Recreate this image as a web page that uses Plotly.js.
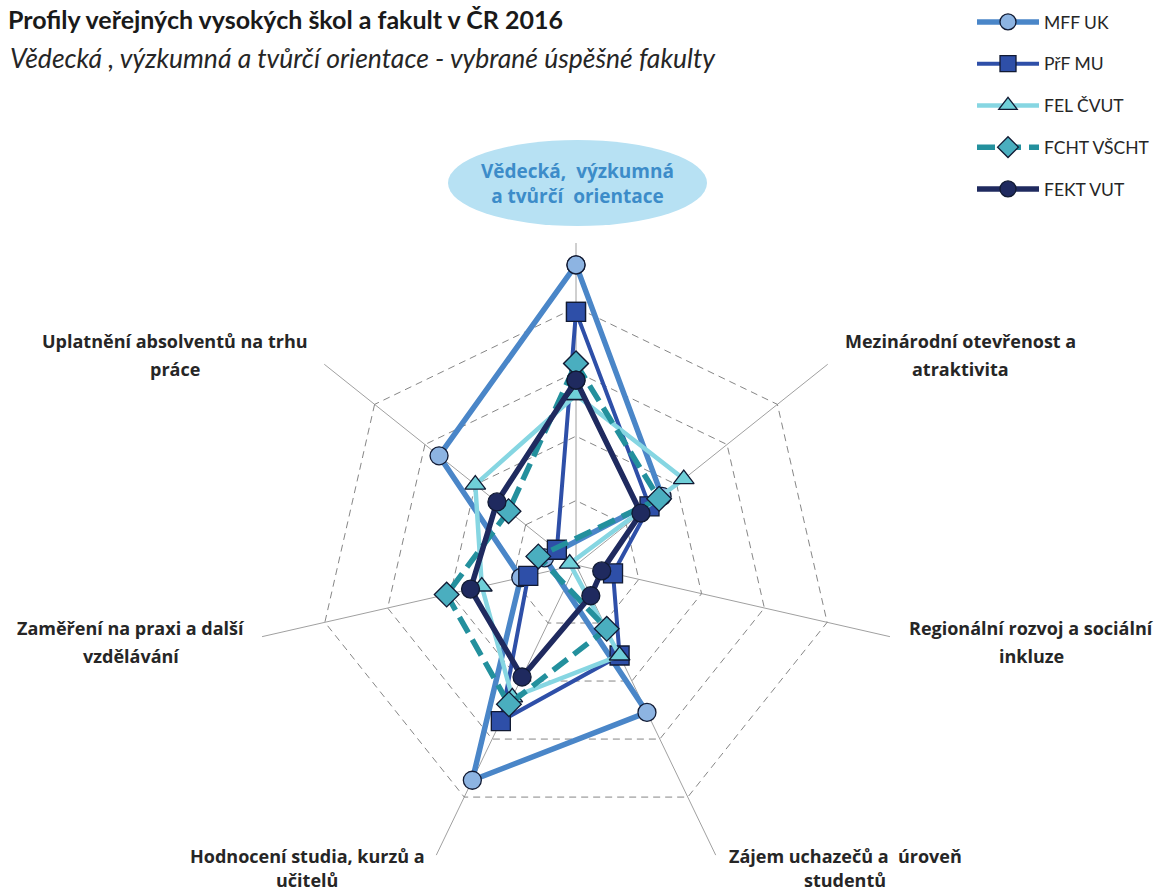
<!DOCTYPE html>
<html>
<head>
<meta charset="utf-8">
<script src="https://cdn.plot.ly/plotly-3.0.1.min.js"></script>
<style>
  html, body { margin: 0; padding: 0; background: #fff; }
  #radar { width: 1163px; height: 891px; }
</style>
</head>
<body>
<div id="radar"></div>
<script>
// categories, clockwise from the top
var categories = [
	'Vědecká, výzkumná a tvůrčí orientace',
	'Mezinárodní otevřenost a atraktivita',
	'Regionální rozvoj a sociální inkluze',
	'Zájem uchazečů a úroveň studentů',
	'Hodnocení studia, kurzů a učitelů',
	'Zaměření na praxi a další vzdělávání',
	'Uplatnění absolventů na trhu práce'
];

// series values (axis 0..5, values below 0 land on the opposite side, as in Excel)
var mffUK     = [4.66, 1.71, -0.50, 2.54, 3.71, 0.88, 2.72];
var prfMU     = [3.93, 1.46,  0.59, 1.56, 2.69, 0.76, 0.38];
var felCVUT   = [2.64, 2.14, -0.10, 1.56, 2.28, 1.50, 2.00];
var fchtVSCHT = [3.13, 1.65, -0.60, 1.10, 2.40, 2.06, 1.34];
var fektVUT   = [2.87, 1.29,  0.41, 0.53, 1.93, 1.68, 1.57];

var seriesNames = ['MFF UK', 'PřF MU', 'FEL ČVUT', 'FCHT VŠCHT', 'FEKT VUT'];
var seriesValues = [mffUK, prfMU, felCVUT, fchtVSCHT, fektVUT];

var styles = [
	{line: '#4a86c8', width: 5.5, dash: 'solid', symbol: 'circle', fill: '#8db4e2', size: 18},
	{line: '#2e4fa8', width: 4, dash: 'solid', symbol: 'square', fill: '#2e4fa8', size: 19},
	{line: '#86d6e2', width: 4.5, dash: 'solid', symbol: 'triangle-up', fill: '#6fcfd8', size: 18},
	{line: '#23909d', width: 5.5, dash: '18px,8px', symbol: 'diamond', fill: '#4aaebf', size: 19},
	{line: '#1f2a5f', width: 5.5, dash: 'solid', symbol: 'circle', fill: '#1f2a5f', size: 18}
];

// angle of each category in degrees; a value below zero is drawn on the far side of the centre
function toPolar(values) {
	var step = 360 / categories.length;
	var r = [], theta = [];
	for (var k = 0; k <= values.length; k++) {
		var v = values[k % values.length];
		var a = (k % values.length) * step;
		if (v < 0) {
			r.push(-v);
			theta.push(a + 180);
		} else {
			r.push(v);
			theta.push(a);
		}
	}
	return {r: r, theta: theta};
}

var data = [];

// invisible trace that just carries the category web
data.push({
	type: 'scatterpolar', subplot: 'polar', mode: 'lines',
	r: categories.map(function() { return 0; }), theta: categories,
	line: {width: 0}, opacity: 0, showlegend: false, hoverinfo: 'skip'
});

for (var i = 0; i < seriesNames.length; i++) {
	var s = styles[i];
	var p = toPolar(seriesValues[i]);
	data.push({
		type: 'scatterpolar',
		subplot: 'polar2',
		mode: 'lines+markers',
		name: seriesNames[i],
		legendgroup: 'g' + i,
		r: p.r,
		theta: p.theta,
		line: {color: s.line, width: s.width, dash: s.dash},
		marker: {symbol: s.symbol, size: s.size, color: s.fill, line: {color: '#111a33', width: 1.3}},
		cliponaxis: false,
		hoverinfo: 'name'
	});
}

var W = 1163, H = 891;
function px(x) { return x / W; }
function py(y) { return 1 - y / H; }

// centre of the web and outer radius in pixels
var cx = 576, cy = 565, R = 322;
var dom = {x: [px(cx - R), px(cx + R)], y: [py(cy + R), py(cy - R)]};

var labelFont = {family: '"Open Sans", Lato, sans-serif', size: 18, color: '#262626'};
// each label as two lines, placed round the web
var labels = [
	{lines: ['Mezinárodní otevřenost a', 'atraktivita'], x: 960, y: 341, gap: 28},
	{lines: ['Regionální rozvoj a sociální', 'inkluze'], x: 1031, y: 628, gap: 28},
	{lines: ['Zájem uchazečů a  úroveň', 'studentů'], x: 845, y: 856, gap: 24},
	{lines: ['Hodnocení studia, kurzů a', 'učitelů'], x: 307, y: 856, gap: 24},
	{lines: ['Zaměření na praxi a další', 'vzdělávání'], x: 131, y: 628, gap: 28},
	{lines: ['Uplatnění absolventů na trhu', 'práce'], x: 175, y: 341, gap: 28}
];

var annotations = [];
labels.forEach(function(l) {
	l.lines.forEach(function(t, j) {
		annotations.push({
			text: '<b>' + t + '</b>', xref: 'paper', yref: 'paper',
			x: px(l.x), y: py(l.y + j * l.gap), xanchor: 'center', yanchor: 'middle',
			showarrow: false, font: labelFont
		});
	});
});

// top category sits in a light blue ellipse
annotations.push({
	text: '<b>Vědecká,  výzkumná<br>a tvůrčí  orientace</b>', xref: 'paper', yref: 'paper',
	x: px(577), y: py(183), xanchor: 'center', yanchor: 'middle', showarrow: false,
	font: {family: '"Open Sans", Lato, sans-serif', size: 19, color: '#3c8cc9'}, align: 'center'
});

// subtitle
annotations.push({
	text: '<i>Vědecká , výzkumná a tvůrčí orientace - vybrané úspěšné fakulty</i>',
	xref: 'paper', yref: 'paper', x: px(8), y: py(58), xanchor: 'left', yanchor: 'middle',
	showarrow: false, font: {family: 'Lato, "Open Sans", sans-serif', size: 26.5, color: '#262626'}
});

var layout = {
	width: W,
	height: H,
	margin: {l: 0, r: 0, t: 0, b: 0},
	paper_bgcolor: '#ffffff',
	title: {
		text: '<b>Profily veřejných vysokých škol a fakult v ČR 2016</b>',
		x: px(8), xanchor: 'left', xref: 'paper',
		y: py(20), yanchor: 'middle', yref: 'paper',
		font: {family: 'Lato, "Open Sans", sans-serif', size: 25, color: '#1a1a1a'}
	},
	showlegend: true,
	legend: {
		x: px(972), y: py(4), xanchor: 'left', yanchor: 'top',
		traceorder: 'grouped', tracegroupgap: 16, itemwidth: 62,
		font: {family: 'Lato, "Open Sans", sans-serif', size: 17.5, color: '#262626'},
		bgcolor: 'rgba(0,0,0,0)'
	},
	polar: {
		domain: dom,
		gridshape: 'linear',
		bgcolor: 'rgba(0,0,0,0)',
		radialaxis: {
			range: [0, 5], dtick: 1, showticklabels: false, ticks: '',
			showline: false, gridcolor: '#868686', griddash: '7px,5px', gridwidth: 1.3
		},
		angularaxis: {
			direction: 'clockwise', rotation: 90, showticklabels: false, ticks: '',
			showline: false, gridcolor: '#a0a0a0', gridwidth: 1.1
		}
	},
	polar2: {
		domain: dom,
		bgcolor: 'rgba(0,0,0,0)',
		radialaxis: {range: [0, 5], visible: false},
		angularaxis: {direction: 'clockwise', rotation: 90, visible: false}
	},
	shapes: [{
		type: 'circle', xref: 'paper', yref: 'paper',
		x0: px(448), x1: px(707), y0: py(226), y1: py(140),
		fillcolor: '#b7e1f3', line: {width: 0}, layer: 'below'
	}],
	annotations: annotations
};

Plotly.newPlot(document.getElementById('radar'), data, layout, {displayModeBar: false});
</script>
</body>
</html>
